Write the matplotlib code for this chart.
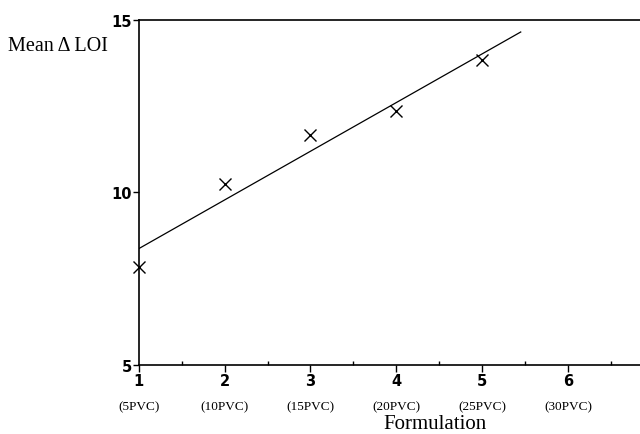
import numpy as np
import matplotlib.pyplot as plt

formulation = [1, 2, 3, 4, 5]
mean_dloi = [7.84, 10.25, 11.67, 12.36, 13.84]
tick_pos = [1, 2, 3, 4, 5, 6]
tick_sub = ["(5PVC)", "(10PVC)", "(15PVC)", "(20PVC)", "(25PVC)", "(30PVC)"]
fit_end = 5.45

fig = plt.figure(figsize=(6.4, 4.35), dpi=100)
ax = fig.add_axes([0.217, 0.159, 0.783, 0.793])

# least squares line through the means
coefs = np.polyfit(formulation, mean_dloi, 1)
xf = np.array([formulation[0], fit_end])
ax.plot(xf, np.polyval(coefs, xf), color="black", lw=0.9)
ax.plot(formulation, mean_dloi, "x", color="black", ms=8, mew=1.0, clip_on=False)

ax.set_xlim(1, 6.84)
ax.set_ylim(5, 15)
ax.set_yticks([5, 10, 15])
ax.set_xticks(tick_pos)
ax.set_xticks([1.5, 2.5, 3.5, 4.5, 5.5, 6.5], minor=True)
ax.spines["right"].set_visible(False)
for s in ["left", "bottom", "top"]:
    ax.spines[s].set_linewidth(1.2)

ax.tick_params(axis="y", direction="out", length=4, width=1, pad=1,
               labelsize=10.5)
ax.tick_params(axis="x", which="major", direction="out", length=5, width=1,
               pad=1, labelsize=10.5)
ax.tick_params(axis="x", which="minor", direction="in", length=3, width=1)
for lab in ax.get_xticklabels() + ax.get_yticklabels():
    lab.set_fontfamily("Liberation Sans Narrow")
    lab.set_fontweight("bold")

tr = ax.get_xaxis_transform()
for p, s in zip(tick_pos, tick_sub):
    ax.text(p, -0.12, s, transform=tr, ha="center", va="center", fontsize=9.5,
            family="Liberation Serif")

fig.text(0.68, 0.025, "Formulation", ha="center", va="center", fontsize=15,
         family="Liberation Serif")
fig.text(0.013, 0.893, "Mean \u0394 LOI", ha="left", va="center", fontsize=14.5,
         family=["Liberation Serif", "DejaVu Sans"])

fig.savefig("out.png", dpi=100)
